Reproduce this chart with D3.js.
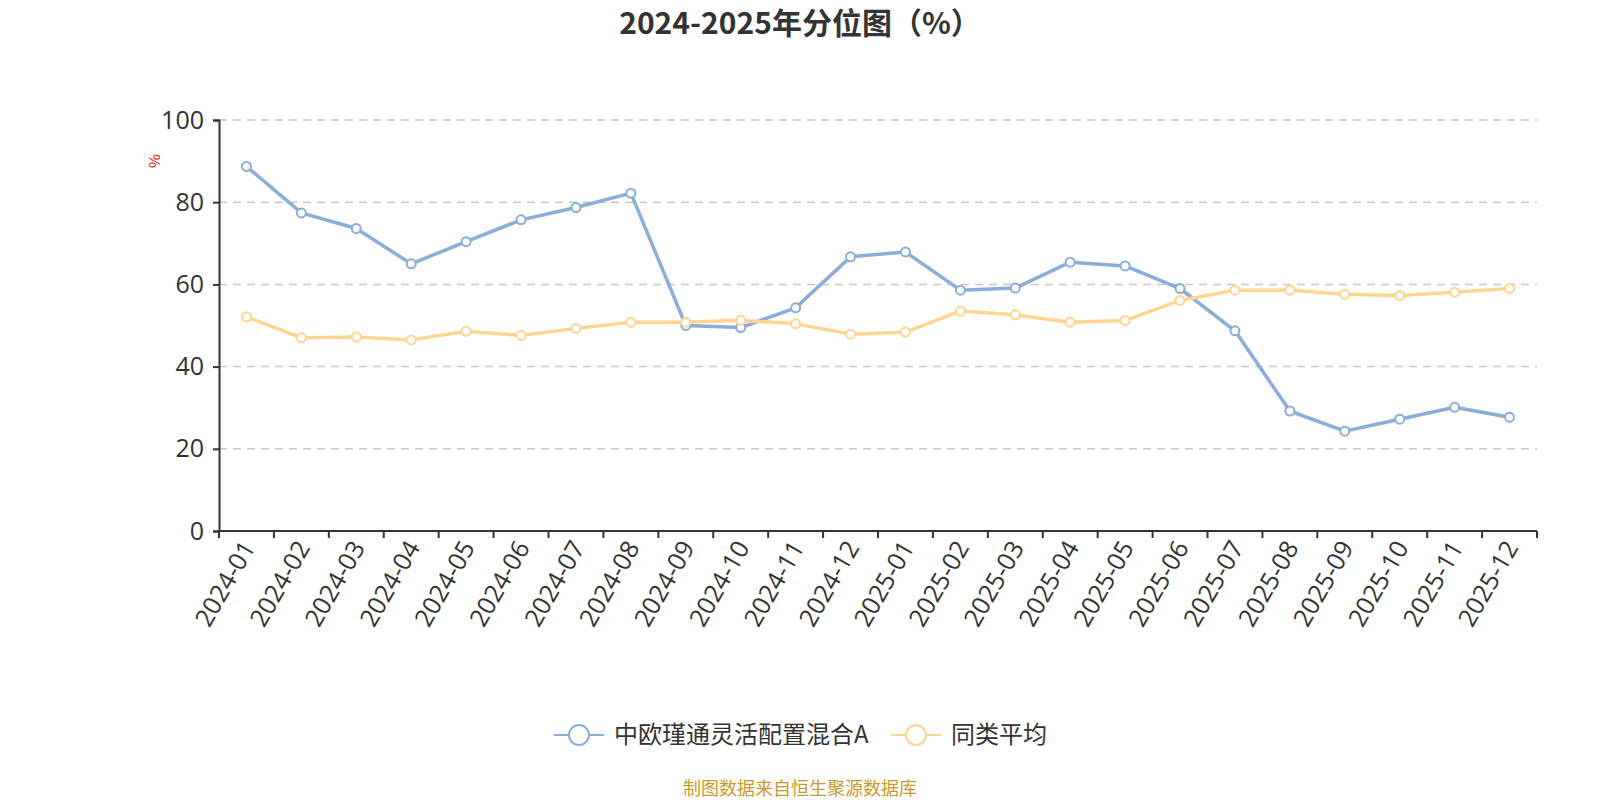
<!DOCTYPE html>
<html>
<head>
<meta charset="utf-8">
<script src="https://cdn.jsdelivr.net/npm/d3@7"></script>
<style>
  body { margin: 0; background: #fff; }
  text { font-family: "Noto Sans CJK SC", "Noto Sans", sans-serif; }
</style>
</head>
<body>
<div id="chart"></div>
<script>
// months on the x axis
const months = ["2024-01","2024-02","2024-03","2024-04","2024-05","2024-06","2024-07","2024-08",
  "2024-09","2024-10","2024-11","2024-12","2025-01","2025-02","2025-03","2025-04",
  "2025-05","2025-06","2025-07","2025-08","2025-09","2025-10","2025-11","2025-12"];

// fund percentile
const fundValues = [88.7, 77.4, 73.6, 65.0, 70.4, 75.7, 78.7, 82.2, 50.0, 49.5, 54.3, 66.7,
  67.9, 58.6, 59.1, 65.4, 64.5, 59.0, 48.7, 29.2, 24.3, 27.2, 30.1, 27.7];

// category average
const avgValues = [52.1, 47.0, 47.2, 46.5, 48.6, 47.6, 49.3, 50.8, 50.8, 51.3, 50.4, 47.9,
  48.4, 53.5, 52.6, 50.8, 51.2, 56.1, 58.6, 58.6, 57.6, 57.3, 58.1, 59.0];

const yTicks = [0, 20, 40, 60, 80, 100];

const seriesNames = ["中欧瑾通灵活配置混合A", "同类平均"];
const colors = ["#8aadda", "#ffd591"];

const W = 1600, H = 800;
const plotL = 219, plotR = 1537, plotT = 120, plotB = 531;
const tickFont = '"Open Sans", "Noto Sans CJK SC", sans-serif';

const svg = d3.select("#chart").append("svg")
  .attr("width", W)
  .attr("height", H);

// title
svg.append("text")
  .attr("x", W / 2).attr("y", 23)
  .attr("dy", "0.35em")
  .attr("text-anchor", "middle")
  .attr("font-size", 30).attr("font-weight", "bold")
  .attr("fill", "#333")
  .text("2024-2025年分位图（%）");

// scales
const x = d3.scaleBand().domain(months).range([plotL, plotR]);
const y = d3.scaleLinear().domain([0, 100]).range([plotB, plotT]);
const cx = d => x(d) + x.bandwidth() / 2;

// grid lines
svg.append("g")
  .selectAll("line")
  .data(yTicks.filter(t => t > 0))
  .join("line")
  .attr("x1", plotL).attr("x2", plotR)
  .attr("y1", d => y(d)).attr("y2", d => y(d))
  .attr("stroke", "#c8c8c8")
  .attr("stroke-width", 1.5)
  .attr("stroke-dasharray", "8,6");

// y axis
const yAxis = svg.append("g")
  .attr("transform", `translate(${plotL},0)`)
  .call(d3.axisLeft(y).tickValues(yTicks).tickSize(6).tickPadding(9));
yAxis.select(".domain").attr("stroke", "#333").attr("stroke-width", 2);
yAxis.selectAll(".tick line").attr("stroke", "#333").attr("stroke-width", 2);
yAxis.selectAll(".tick text")
  .attr("font-size", 25)
  .attr("fill", "#333")
  .style("font-family", tickFont);

// y axis name
svg.append("text")
  .attr("transform", "translate(160,161) rotate(-90)")
  .attr("text-anchor", "middle")
  .attr("font-size", 15)
  .attr("fill", "red")
  .text("%");

// x axis, ticks on band boundaries
const xAxis = svg.append("g").attr("transform", `translate(0,${plotB})`);
xAxis.append("line")
  .attr("x1", plotL).attr("x2", plotR)
  .attr("stroke", "#333").attr("stroke-width", 2);
const bounds = months.map(m => x(m)).concat([plotR]);
xAxis.selectAll(".tk")
  .data(bounds)
  .join("line")
  .attr("class", "tk")
  .attr("x1", d => d).attr("x2", d => d)
  .attr("y1", 0).attr("y2", 7)
  .attr("stroke", "#333").attr("stroke-width", 2);
xAxis.selectAll(".lbl")
  .data(months)
  .join("text")
  .attr("class", "lbl")
  .attr("transform", d => `translate(${cx(d) + 2},12) rotate(-60)`)
  .attr("text-anchor", "end")
  .attr("dy", "0.35em")
  .attr("font-size", 25)
  .attr("fill", "#333")
  .style("font-family", tickFont)
  .text(d => d);

// lines
const line = d3.line()
  .x((d, i) => cx(months[i]))
  .y(d => y(d));

[fundValues, avgValues].forEach((vals, k) => {
  svg.append("path")
    .datum(vals)
    .attr("d", line)
    .attr("fill", "none")
    .attr("stroke", colors[k])
    .attr("stroke-width", 3.5)
    .attr("stroke-linejoin", "round");
  svg.append("g")
    .selectAll("circle")
    .data(vals)
    .join("circle")
    .attr("cx", (d, i) => cx(months[i]))
    .attr("cy", d => y(d))
    .attr("r", 4.5)
    .attr("fill", "#fff")
    .attr("stroke", colors[k])
    .attr("stroke-width", 2);
});

// legend
const legendItems = [
  {name: seriesNames[0], color: colors[0], x0: 554},
  {name: seriesNames[1], color: colors[1], x0: 891}
];
const lg = svg.append("g").attr("transform", "translate(0,735)");
legendItems.forEach(it => {
  lg.append("line")
    .attr("x1", it.x0).attr("x2", it.x0 + 50)
    .attr("stroke", it.color).attr("stroke-width", 2);
  lg.append("circle")
    .attr("cx", it.x0 + 25).attr("cy", 0).attr("r", 10)
    .attr("fill", "#fff").attr("stroke", it.color).attr("stroke-width", 2);
  lg.append("text")
    .attr("x", it.x0 + 60).attr("y", 0)
    .attr("dy", "0.35em")
    .attr("font-size", 24)
    .attr("fill", "#333")
    .text(it.name);
});

// source note
svg.append("text")
  .attr("x", W / 2).attr("y", 795)
  .attr("text-anchor", "middle")
  .attr("font-size", 18)
  .attr("fill", "#c99a2e")
  .text("制图数据来自恒生聚源数据库");
</script>
</body>
</html>
